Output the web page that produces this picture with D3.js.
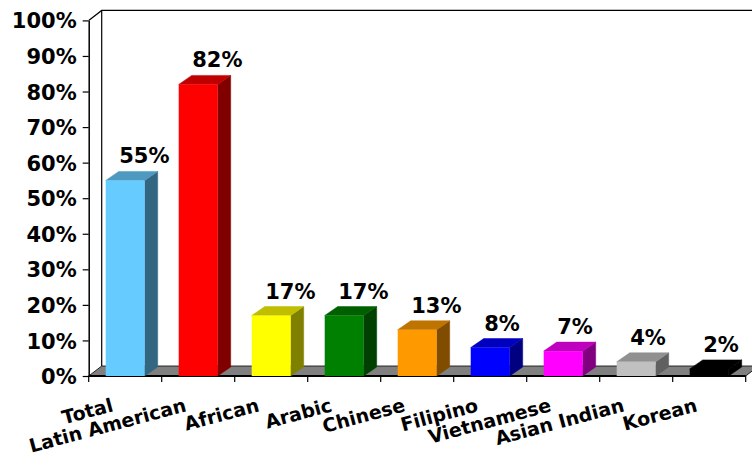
<!DOCTYPE html>
<html>
<head>
<meta charset="utf-8">
<script src="https://cdn.jsdelivr.net/npm/d3@7/dist/d3.min.js"></script>
<style>
  html, body { margin: 0; padding: 0; background: #fff; }
  svg { display: block; }
  text { font-family: "DejaVu Sans", Verdana, sans-serif; font-weight: bold; fill: #000; }
</style>
</head>
<body>
<svg id="chart" width="752" height="462"></svg>
<script>
const categories = ["Total", "Latin American", "African", "Arabic", "Chinese", "Filipino", "Vietnamese", "Asian Indian", "Korean"];
const values = [55, 82, 17, 17, 13, 8, 7, 4, 2];
const colors = ["#66ccff", "#ff0000", "#ffff00", "#008000", "#ff9900", "#0000ff", "#ff00ff", "#c0c0c0", "#000000"];
const yTicks = [0, 10, 20, 30, 40, 50, 60, 70, 80, 90, 100];

const svg = d3.select("#chart");
const W = 752;
const x0 = 88.7, x1 = 745.7, yBottom = 376, yTop = 20.4;
const wallDx = 13, wallDy = -10;
const barDx = 13, barDy = -9;

const y = d3.scaleLinear().domain([0, 100]).range([yBottom, yTop]);
const x = d3.scaleBand().domain(categories).range([x0, x1]).paddingInner(0.466).paddingOuter(0.233);
const step = x.step();

function shade(c, k) {
  const r = d3.rgb(c);
  return d3.rgb(r.r * k, r.g * k, r.b * k).formatHex();
}

// Side wall (white) and back wall outline
const g = svg.append("g");
g.append("path")
  .attr("d", `M${x0},${y(100)} L${x0 + wallDx},${y(100) + wallDy} L${W + 10},${y(100) + wallDy}`)
  .attr("fill", "none").attr("stroke", "#000").attr("stroke-width", 1.2);
g.append("line")
  .attr("x1", x0 + wallDx).attr("x2", x0 + wallDx)
  .attr("y1", y(100) + wallDy).attr("y2", y(0) + wallDy)
  .attr("stroke", "#000").attr("stroke-width", 1.2);

// Floor
g.append("path")
  .attr("d", `M${x0},${y(0)} L${x1},${y(0)} L${x1 + wallDx},${y(0) + wallDy} L${x0 + wallDx},${y(0) + wallDy} Z`)
  .attr("fill", "#808080").attr("stroke", "#000").attr("stroke-width", 0.8);
g.append("line")
  .attr("x1", x0).attr("x2", x1).attr("y1", y(0)).attr("y2", y(0))
  .attr("stroke", "#000").attr("stroke-width", 2);

// Category boundary ticks
const bounds = d3.range(categories.length + 1).map(i => x0 + i * step);
g.selectAll(".ctick").data(bounds).enter().append("line")
  .attr("x1", d => d).attr("x2", d => d)
  .attr("y1", y(0)).attr("y2", y(0) + 6)
  .attr("stroke", "#000").attr("stroke-width", 1.2);

// Y axis
const yAxis = d3.axisLeft(y).tickValues(yTicks).tickFormat(d => d + "%").tickSize(6).tickSizeOuter(0);
const ya = svg.append("g").attr("transform", `translate(${x0},0)`).call(yAxis);
ya.select(".domain").attr("stroke", "#000").attr("stroke-width", 1.5);
ya.selectAll(".tick line").attr("stroke", "#000").attr("stroke-width", 1.2);
ya.selectAll(".tick text")
  .attr("x", -12).attr("dy", "0.36em")
  .style("font-size", "21px").style("font-family", "'DejaVu Sans', sans-serif").style("font-weight", "bold")
  .attr("fill", "#000");

// Bars
const data = categories.map((c, i) => ({ c, v: values[i], col: colors[i] }));
const bars = svg.append("g").selectAll("g.bar").data(data).enter().append("g").attr("class", "bar");
bars.each(function(d) {
  const gb = d3.select(this);
  const bx = x(d.c), bw = x.bandwidth();
  const yt = y(d.v), yb = y(0);
  // side
  gb.append("path")
    .attr("d", `M${bx + bw},${yb} L${bx + bw + barDx},${yb + barDy} L${bx + bw + barDx},${yt + barDy} L${bx + bw},${yt} Z`)
    .attr("fill", shade(d.col, 0.5)).attr("stroke", shade(d.col, 0.5)).attr("stroke-width", 0.5);
  // top
  gb.append("path")
    .attr("d", `M${bx},${yt} L${bx + barDx},${yt + barDy} L${bx + bw + barDx},${yt + barDy} L${bx + bw},${yt} Z`)
    .attr("fill", shade(d.col, 0.75)).attr("stroke", shade(d.col, 0.75)).attr("stroke-width", 0.5);
  // front
  gb.append("rect")
    .attr("x", bx).attr("y", yt).attr("width", bw).attr("height", yb - yt)
    .attr("fill", d.col);
  // value label
  gb.append("text")
    .attr("x", bx + 13.5).attr("y", yt - 17)
    .attr("text-anchor", "start")
    .style("font-size", "21px")
    .text(d.v + "%");
});

// Category labels
svg.append("g").selectAll("text.cat").data(categories).enter().append("text")
  .attr("class", "cat")
  .attr("text-anchor", "end")
  .attr("transform", d => `translate(${x(d) + x.bandwidth() / 2 - 11},411) rotate(-15)`)
  .style("font-size", "19px")
  .text(d => d);
</script>
</body>
</html>
